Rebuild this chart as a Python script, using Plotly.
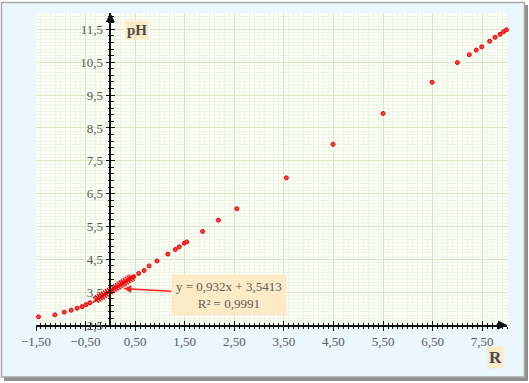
import plotly.graph_objects as go

# ---- data ----
R_points = [-1.45, -1.12, -0.93, -0.79, -0.67, -0.57, -0.49, -0.41, 0.47, 0.57, 0.68, 0.78,
            0.94, 1.16, 1.31, 1.39, 1.49, 1.54, 1.86, 2.18, 2.55, 3.55, 4.49, 5.50, 6.49,
            7.00, 7.24, 7.38, 7.49, 7.65, 7.76, 7.86, 7.93, 7.99]
pH_points = [2.75, 2.81, 2.89, 2.95, 3.01, 3.06, 3.12, 3.18, 3.97, 4.07, 4.16, 4.30,
             4.45, 4.66, 4.80, 4.88, 4.99, 5.03, 5.35, 5.69, 6.04, 6.98, 8.00, 8.94, 9.89,
             10.49, 10.73, 10.87, 10.97, 11.14, 11.26, 11.35, 11.43, 11.49]
R_linear = [-0.29, -0.25, -0.21, -0.17, -0.13, -0.09, -0.05, -0.01, 0.03, 0.07,
            0.11, 0.15, 0.19, 0.23, 0.27, 0.31, 0.35, 0.39, 0.43]
pH_linear = [3.27, 3.31, 3.35, 3.38, 3.42, 3.46, 3.50, 3.53, 3.57, 3.61,
             3.64, 3.68, 3.72, 3.76, 3.79, 3.83, 3.87, 3.91, 3.94]
fit_text = "y = 0,932x + 3,5413<br>R² = 0,9991"
fit_arrow_at = (0.27, 3.61)
x_label = "R"
y_label = "pH"

X_RANGE = [-1.5, 8.0]
Y_RANGE = [2.5, 12.0]

W, H = 529, 383
ML, MR, MT, MB = 36, 22, 13, 58
PW, PH = W - ML - MR, H - MT - MB

def px2paper_x(px):
    return (px - ML) / PW

def px2paper_y(py):
    return (H - MB - py) / PH

SERIF = "Liberation Serif"
LBL = "#5a5a5a"
MAJ_GRID = "#d6e8c6"
MIN_GRID = "#eef5e6"
yaxis_pos = (0 - X_RANGE[0]) / (X_RANGE[1] - X_RANGE[0])

fig = go.Figure()

fig.add_trace(go.Scatter(
    x=R_points, y=pH_points, mode="markers", cliponaxis=False,
    marker=dict(symbol="circle", size=4, color="#ff4040",
                line=dict(color="#e80000", width=1)),
    showlegend=False, hoverinfo="x+y"))
fig.add_trace(go.Scatter(
    x=R_linear, y=pH_linear, mode="markers", cliponaxis=False,
    marker=dict(symbol="x-thin", size=6, color="#ff0000",
                line=dict(color="#ff0000", width=1.5)),
    showlegend=False, hoverinfo="x+y"))
# invisible helpers so that overlay axes (for crossing ticks) exist
fig.add_trace(go.Scatter(x=[X_RANGE[0]], y=[Y_RANGE[0]], xaxis="x2", yaxis="y2",
                         mode="markers", marker=dict(opacity=0), showlegend=False,
                         hoverinfo="skip"))
fig.add_trace(go.Scatter(x=[X_RANGE[0]], y=[Y_RANGE[0]], xaxis="x", yaxis="y3",
                         mode="markers", marker=dict(opacity=0), showlegend=False,
                         hoverinfo="skip"))

# frame: shadow + light blue panel + plot area
fig.add_shape(type="rect", xref="paper", yref="paper", layer="below",
              x0=px2paper_x(4), x1=px2paper_x(528), y0=px2paper_y(381), y1=px2paper_y(5),
              fillcolor="#8f8f8f", line=dict(width=0))
fig.add_shape(type="rect", xref="paper", yref="paper", layer="below",
              x0=px2paper_x(1.5), x1=px2paper_x(524.5), y0=px2paper_y(377), y1=px2paper_y(2.5),
              fillcolor="#eaf7fd", line=dict(color="#a8a8a8", width=1.5))
fig.add_shape(type="rect", xref="paper", yref="paper", layer="below",
              x0=0, x1=1, y0=0, y1=1, fillcolor="#fdfef6", line=dict(width=0))

common_font = dict(family=SERIF, size=13, color=LBL)

fig.update_layout(
    width=W, height=H,
    margin=dict(l=ML, r=MR, t=MT, b=MB, pad=0),
    paper_bgcolor="white",
    plot_bgcolor="rgba(0,0,0,0)",
    separators=", ",
    font=common_font,
    xaxis=dict(range=X_RANGE, tick0=-1.5, dtick=1, tickformat=".2f",
               showline=True, linecolor="#111111", linewidth=1.5,
               ticks="outside", ticklen=4, tickwidth=1.2, tickcolor="#111111",
               showgrid=True, gridcolor=MAJ_GRID, gridwidth=1, zeroline=False,
               tickfont=common_font,
               minor=dict(dtick=0.1, tick0=-1.5, showgrid=True, gridcolor=MIN_GRID,
                          gridwidth=1, ticks="outside", ticklen=2.5,
                          tickcolor="#111111", tickwidth=1)),
    xaxis2=dict(range=X_RANGE, overlaying="x", anchor="y", side="bottom",
                tick0=-1.5, dtick=1, showticklabels=False, showgrid=False,
                zeroline=False, ticks="inside", ticklen=4, tickwidth=1.2,
                tickcolor="#111111",
                minor=dict(dtick=0.1, tick0=-1.5, ticks="inside", ticklen=2.5,
                           tickcolor="#111111", tickwidth=1)),
    yaxis=dict(range=Y_RANGE, tick0=2.5, dtick=1, tickformat=".1f",
               anchor="free", position=yaxis_pos,
               showline=True, linecolor="#111111", linewidth=1.5,
               ticks="outside", ticklen=4, tickwidth=1.2, tickcolor="#111111",
               showgrid=True, gridcolor=MAJ_GRID, gridwidth=1, zeroline=False,
               tickfont=common_font,
               minor=dict(dtick=0.1, tick0=2.5, showgrid=True, gridcolor=MIN_GRID,
                          gridwidth=1)),
    yaxis2=dict(range=Y_RANGE, overlaying="y", anchor="free", position=yaxis_pos,
                tick0=2.5, dtick=1, showticklabels=False, showgrid=False,
                zeroline=False, ticks="inside", ticklen=4, tickwidth=1.2,
                tickcolor="#111111",
                minor=dict(dtick=0.2, tick0=2.5, ticks="inside", ticklen=2.5,
                           tickcolor="#111111", tickwidth=1)),
    yaxis3=dict(range=Y_RANGE, overlaying="y", anchor="free", position=yaxis_pos,
                tick0=2.5, dtick=1, showticklabels=False, showgrid=False,
                zeroline=False, ticks="",
                minor=dict(dtick=0.2, tick0=2.5, ticks="outside", ticklen=2.5,
                           tickcolor="#111111", tickwidth=1)),
    showlegend=False,
)

# axis arrowheads
fig.add_annotation(x=0, y=Y_RANGE[1], xref="x", yref="y", ax=0, ay=12, text="",
                   showarrow=True, arrowhead=2, arrowsize=1.2, arrowwidth=1.5,
                   arrowcolor="#111111")
fig.add_annotation(x=X_RANGE[1], y=Y_RANGE[0], xref="x", yref="y", ax=-12, ay=0, text="",
                   showarrow=True, arrowhead=2, arrowsize=1.2, arrowwidth=1.5,
                   arrowcolor="#111111")

# axis titles
fig.add_annotation(x=px2paper_x(137), y=px2paper_y(29.5), xref="paper", yref="paper",
                   xanchor="center", yanchor="middle",
                   text="<b>" + y_label + "</b>", showarrow=False,
                   font=dict(family=SERIF, size=15, color="#4a4a4a"),
                   bgcolor="#fcebc6", borderpad=1)
fig.add_annotation(x=px2paper_x(495.5), y=px2paper_y(357), xref="paper", yref="paper",
                   xanchor="center", yanchor="middle",
                   text="<b>" + x_label + "</b>", showarrow=False,
                   font=dict(family=SERIF, size=17, color="#4a4a4a"),
                   bgcolor="#fcebc6", borderpad=1)

# trend-line label with arrow
fig.add_annotation(x=fit_arrow_at[0], y=fit_arrow_at[1], xref="x", yref="y",
                   ax=105, ay=6, text=fit_text, showarrow=True,
                   arrowhead=2, arrowsize=1, arrowwidth=1.5, arrowcolor="#ff2020",
                   font=dict(family=SERIF, size=13, color=LBL),
                   bgcolor="#fcebc6", borderpad=4, align="center")

fig.write_html("out.html")
